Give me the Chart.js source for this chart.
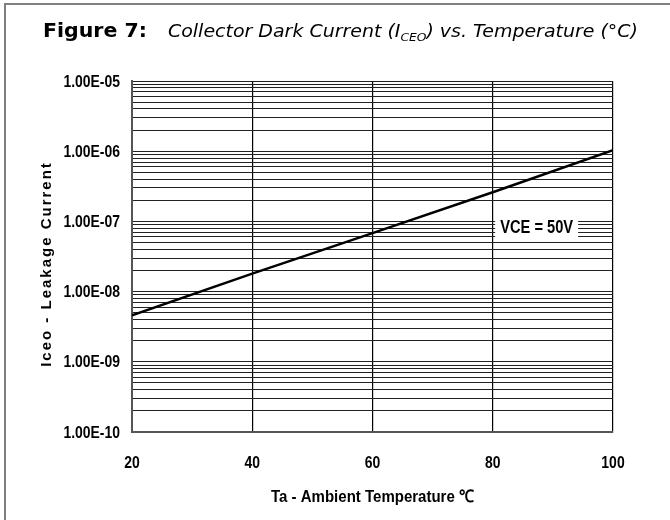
<!DOCTYPE html>
<html>
<head>
<meta charset="utf-8">
<script src="https://cdn.jsdelivr.net/npm/chart.js@4.4.1/dist/chart.umd.min.js"></script>
<style>
  html, body { margin: 0; padding: 0; background: #fff; }
  #wrap { width: 670px; height: 520px; position: relative; }
</style>
</head>
<body>
<div id="wrap"><canvas id="chart" width="670" height="520"></canvas></div>
<script>
// Datos
const temperaturas = [20, 40, 60, 80, 100];
const corrienteIceo = [4.6e-9, 1.8e-8, 6.8e-8, 2.6e-7, 1.03e-6];
const xTicks = [20, 40, 60, 80, 100];
const yDecadas = [1e-10, 1e-9, 1e-8, 1e-7, 1e-6, 1e-5];
const yTickLabels = ["1.00E-10", "1.00E-09", "1.00E-08", "1.00E-07", "1.00E-06", "1.00E-05"];
const serieLabel = "VCE = 50V";

// Textos
const tituloNegrita = "Figure 7:";
const tituloParte1 = "Collector Dark Current (I";
const tituloSub = "CEO";
const tituloParte2 = ") vs. Temperature (°C)";
const tituloEjeY = "Iceo - Leakage Current";
const tituloEjeX = "Ta - Ambient Temperature ℃";

const fuenteArial = "'Liberation Sans', Arial, sans-serif";
const fuenteTicks = "bold 17px " + fuenteArial;
const estrechar = 0.82; // letra condensada como en el original

// Rejilla logarítmica: 1..9 por década
const yGrid = [];
for (let i = 0; i < yDecadas.length - 1; i++) {
  for (let m = 1; m <= 9; m++) yGrid.push(m * yDecadas[i]);
}
yGrid.push(yDecadas[yDecadas.length - 1]);

// Texto ajustado a un ancho
function textoAjustado(ctx, txt, x, y, ancho) {
  const w = ctx.measureText(txt).width;
  ctx.save();
  ctx.translate(x, y);
  ctx.scale(ancho / w, 1);
  ctx.fillText(txt, 0, 0);
  ctx.restore();
}

// Texto condensado con alineación
function textoEstrecho(ctx, txt, x, y, alinear) {
  const w = ctx.measureText(txt).width * estrechar;
  let x0 = x;
  if (alinear === "right") x0 = x - w;
  else if (alinear === "center") x0 = x - w / 2;
  textoAjustado(ctx, txt, x0, y, w);
}

const decoracion = {
  id: "decoracion",
  beforeDraw(chart) {
    const ctx = chart.ctx;
    ctx.save();
    ctx.fillStyle = "#fff";
    ctx.fillRect(0, 0, chart.width, chart.height);
    // marco
    ctx.strokeStyle = "#808080";
    ctx.lineWidth = 2;
    ctx.beginPath();
    ctx.moveTo(5, 520);
    ctx.lineTo(5, 4);
    ctx.lineTo(670, 4);
    ctx.stroke();
    ctx.restore();
  },
  afterDraw(chart) {
    const ctx = chart.ctx;
    const {left, right, bottom} = chart.chartArea;
    const xs = chart.scales.x, ys = chart.scales.y;
    ctx.save();
    ctx.fillStyle = "#000";
    ctx.textBaseline = "alphabetic";
    ctx.textAlign = "left";

    // título
    ctx.font = "bold 19px 'DejaVu Sans', sans-serif";
    textoAjustado(ctx, tituloNegrita, 43, 37, 104);

    const fIt = "italic 17px 'DejaVu Sans', sans-serif";
    const fSub = "italic 11px 'DejaVu Sans', sans-serif";
    ctx.font = fIt;
    const w1 = ctx.measureText(tituloParte1).width;
    const w3 = ctx.measureText(tituloParte2).width;
    ctx.font = fSub;
    const w2 = ctx.measureText(tituloSub).width;
    const k = 470 / (w1 + w2 + w3);
    ctx.save();
    ctx.translate(168, 37);
    ctx.scale(k, 1);
    ctx.font = fIt;
    ctx.fillText(tituloParte1, 0, 0);
    ctx.font = fSub;
    ctx.fillText(tituloSub, w1, 4);
    ctx.font = fIt;
    ctx.fillText(tituloParte2, w1 + w2, 0);
    ctx.restore();

    // etiquetas de los ejes
    ctx.font = fuenteTicks;
    ctx.textBaseline = "middle";
    yDecadas.forEach((v, i) => {
      textoEstrecho(ctx, yTickLabels[i], left - 12, ys.getPixelForValue(v) + 1, "right");
    });
    xTicks.forEach((v) => {
      textoEstrecho(ctx, String(v), xs.getPixelForValue(v), bottom + 31, "center");
    });

    // título eje Y
    ctx.save();
    ctx.translate(47, 264);
    ctx.rotate(-Math.PI / 2);
    ctx.font = "bold 15px " + fuenteArial;
    ctx.textAlign = "center";
    ctx.textBaseline = "middle";
    ctx.letterSpacing = "2px";
    ctx.fillText(tituloEjeY, 0, 0);
    ctx.restore();

    // título eje X
    ctx.font = "bold 17px " + fuenteArial;
    ctx.textBaseline = "middle";
    const xw = 203;
    textoAjustado(ctx, tituloEjeX, (left + right) / 2 - xw / 2, 497, xw);

    // etiqueta de la serie
    const lx = xs.getPixelForValue(87.3);
    const ly = ys.getPixelForValue(8.3e-8);
    const lw = 73;
    ctx.fillStyle = "#fff";
    ctx.fillRect(lx - lw / 2 - 5, ly - 11, lw + 10, 22);
    ctx.fillStyle = "#000";
    ctx.font = "bold 18px " + fuenteArial;
    textoAjustado(ctx, serieLabel, lx - lw / 2, ly + 1, lw);
    ctx.restore();
  }
};

new Chart(document.getElementById("chart"), {
  type: "line",
  data: {
    labels: temperaturas,
    datasets: [{
      label: serieLabel,
      data: temperaturas.map((t, i) => ({x: t, y: corrienteIceo[i]})),
      borderColor: "#000",
      borderWidth: 2.5,
      pointRadius: 0,
      fill: false,
      tension: 0
    }]
  },
  options: {
    responsive: false,
    animation: false,
    layout: { padding: { top: 81, right: 57, left: 0, bottom: 0 } },
    plugins: { legend: { display: false }, tooltip: { enabled: false }, title: { display: false } },
    scales: {
      x: {
        type: "linear",
        min: 20,
        max: 100,
        afterBuildTicks: (s) => { s.ticks = xTicks.map(v => ({value: v})); },
        afterFit: (s) => { s.height = 88; },
        grid: { color: "#000", lineWidth: 1.2, drawTicks: false },
        border: { color: "#555", width: 2 },
        ticks: { display: false }
      },
      y: {
        type: "logarithmic",
        min: 1e-10,
        max: 1e-5,
        afterBuildTicks: (s) => { s.ticks = yGrid.map(v => ({value: v})); },
        afterFit: (s) => { s.width = 132; },
        grid: { color: "#222", lineWidth: 1, drawTicks: false },
        border: { color: "#555", width: 2 },
        ticks: { display: false, autoSkip: false }
      }
    }
  },
  plugins: [decoracion]
});
</script>
</body>
</html>
